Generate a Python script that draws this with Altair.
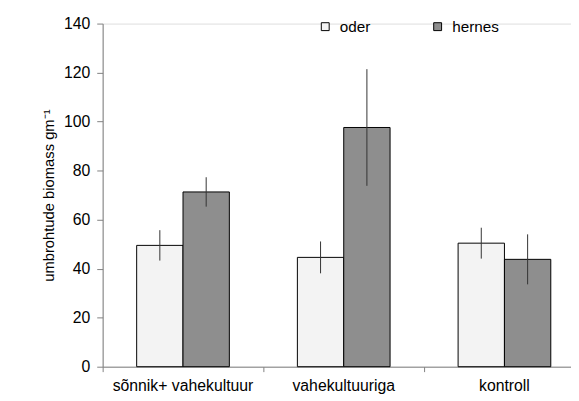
import altair as alt
import pandas as pd

categories = ["sõnnik+ vahekultuur", "vahekultuuriga", "kontroll"]
series = ["oder", "hernes"]
oder_values = [49.5, 44.6, 50.4]
oder_err = [6.2, 6.5, 6.3]
hernes_values = [71.3, 97.6, 43.8]
hernes_err = [6.0, 23.8, 10.2]
y_ticks = [0, 20, 40, 60, 80, 100, 120, 140]

rows = []
for i, c in enumerate(categories):
    rows.append({"cat": c, "series": "oder", "value": oder_values[i], "err": oder_err[i]})
    rows.append({"cat": c, "series": "hernes", "value": hernes_values[i], "err": hernes_err[i]})
df = pd.DataFrame(rows)
df["lo"] = df["value"] - df["err"]
df["hi"] = df["value"] + df["err"]

FONT = "Liberation Sans"

x = alt.X("cat:N", sort=categories, title=None,
          scale=alt.Scale(range=[0, 489], paddingInner=0, paddingOuter=0),
          axis=alt.Axis(bandPosition=0, labelAngle=0,
                        domainColor="#808080", tickColor="#808080", tickSize=5,
                        labelPadding=6, labelFontSize=16, labelFont=FONT,
                        labelColor="black"))
xo = alt.XOffset("series:N", sort=series,
                 scale=alt.Scale(paddingOuter=0.734, paddingInner=0))

base = alt.Chart(df)

bars = base.mark_bar(stroke="black", strokeWidth=1).encode(
    x=x,
    xOffset=xo,
    y=alt.Y("value:Q", title="umbrohtude biomass gm⁻¹",
            scale=alt.Scale(domain=[0, 140], nice=False),
            axis=alt.Axis(values=y_ticks, grid=False, domainColor="#808080",
                          tickColor="#808080", tickSize=6, labelPadding=7,
                          labelFontSize=16, labelFont=FONT, labelColor="black",
                          titleFontSize=15, titleFont=FONT, titleFontWeight="normal",
                          titleColor="black", titlePadding=7)),
    fill=alt.Fill("series:N", sort=series,
                  scale=alt.Scale(domain=series, range=["#f3f3f3", "#8e8e8e"]),
                  legend=alt.Legend(title=None, orient="none", direction="horizontal",
                                    legendX=218, legendY=-5, symbolType="square",
                                    symbolSize=64, symbolStrokeColor="black",
                                    symbolStrokeWidth=1, labelFontSize=15.5,
                                    labelFont=FONT, labelColor="black",
                                    labelOffset=7, columnPadding=60)),
)

errs = base.mark_rule(color="#333333", strokeWidth=1).encode(
    x=x,
    xOffset=xo,
    y="lo:Q",
    y2="hi:Q",
)

chart = (bars + errs).properties(
    width=475, height=348,
    autosize=alt.AutoSizeParams(type="none"),
    padding={"left": 96, "top": 13, "right": 0, "bottom": 32},
).configure_view(stroke=None).configure(background="white")

chart.save("out.html", embed_options={"renderer": "svg", "actions": False})
